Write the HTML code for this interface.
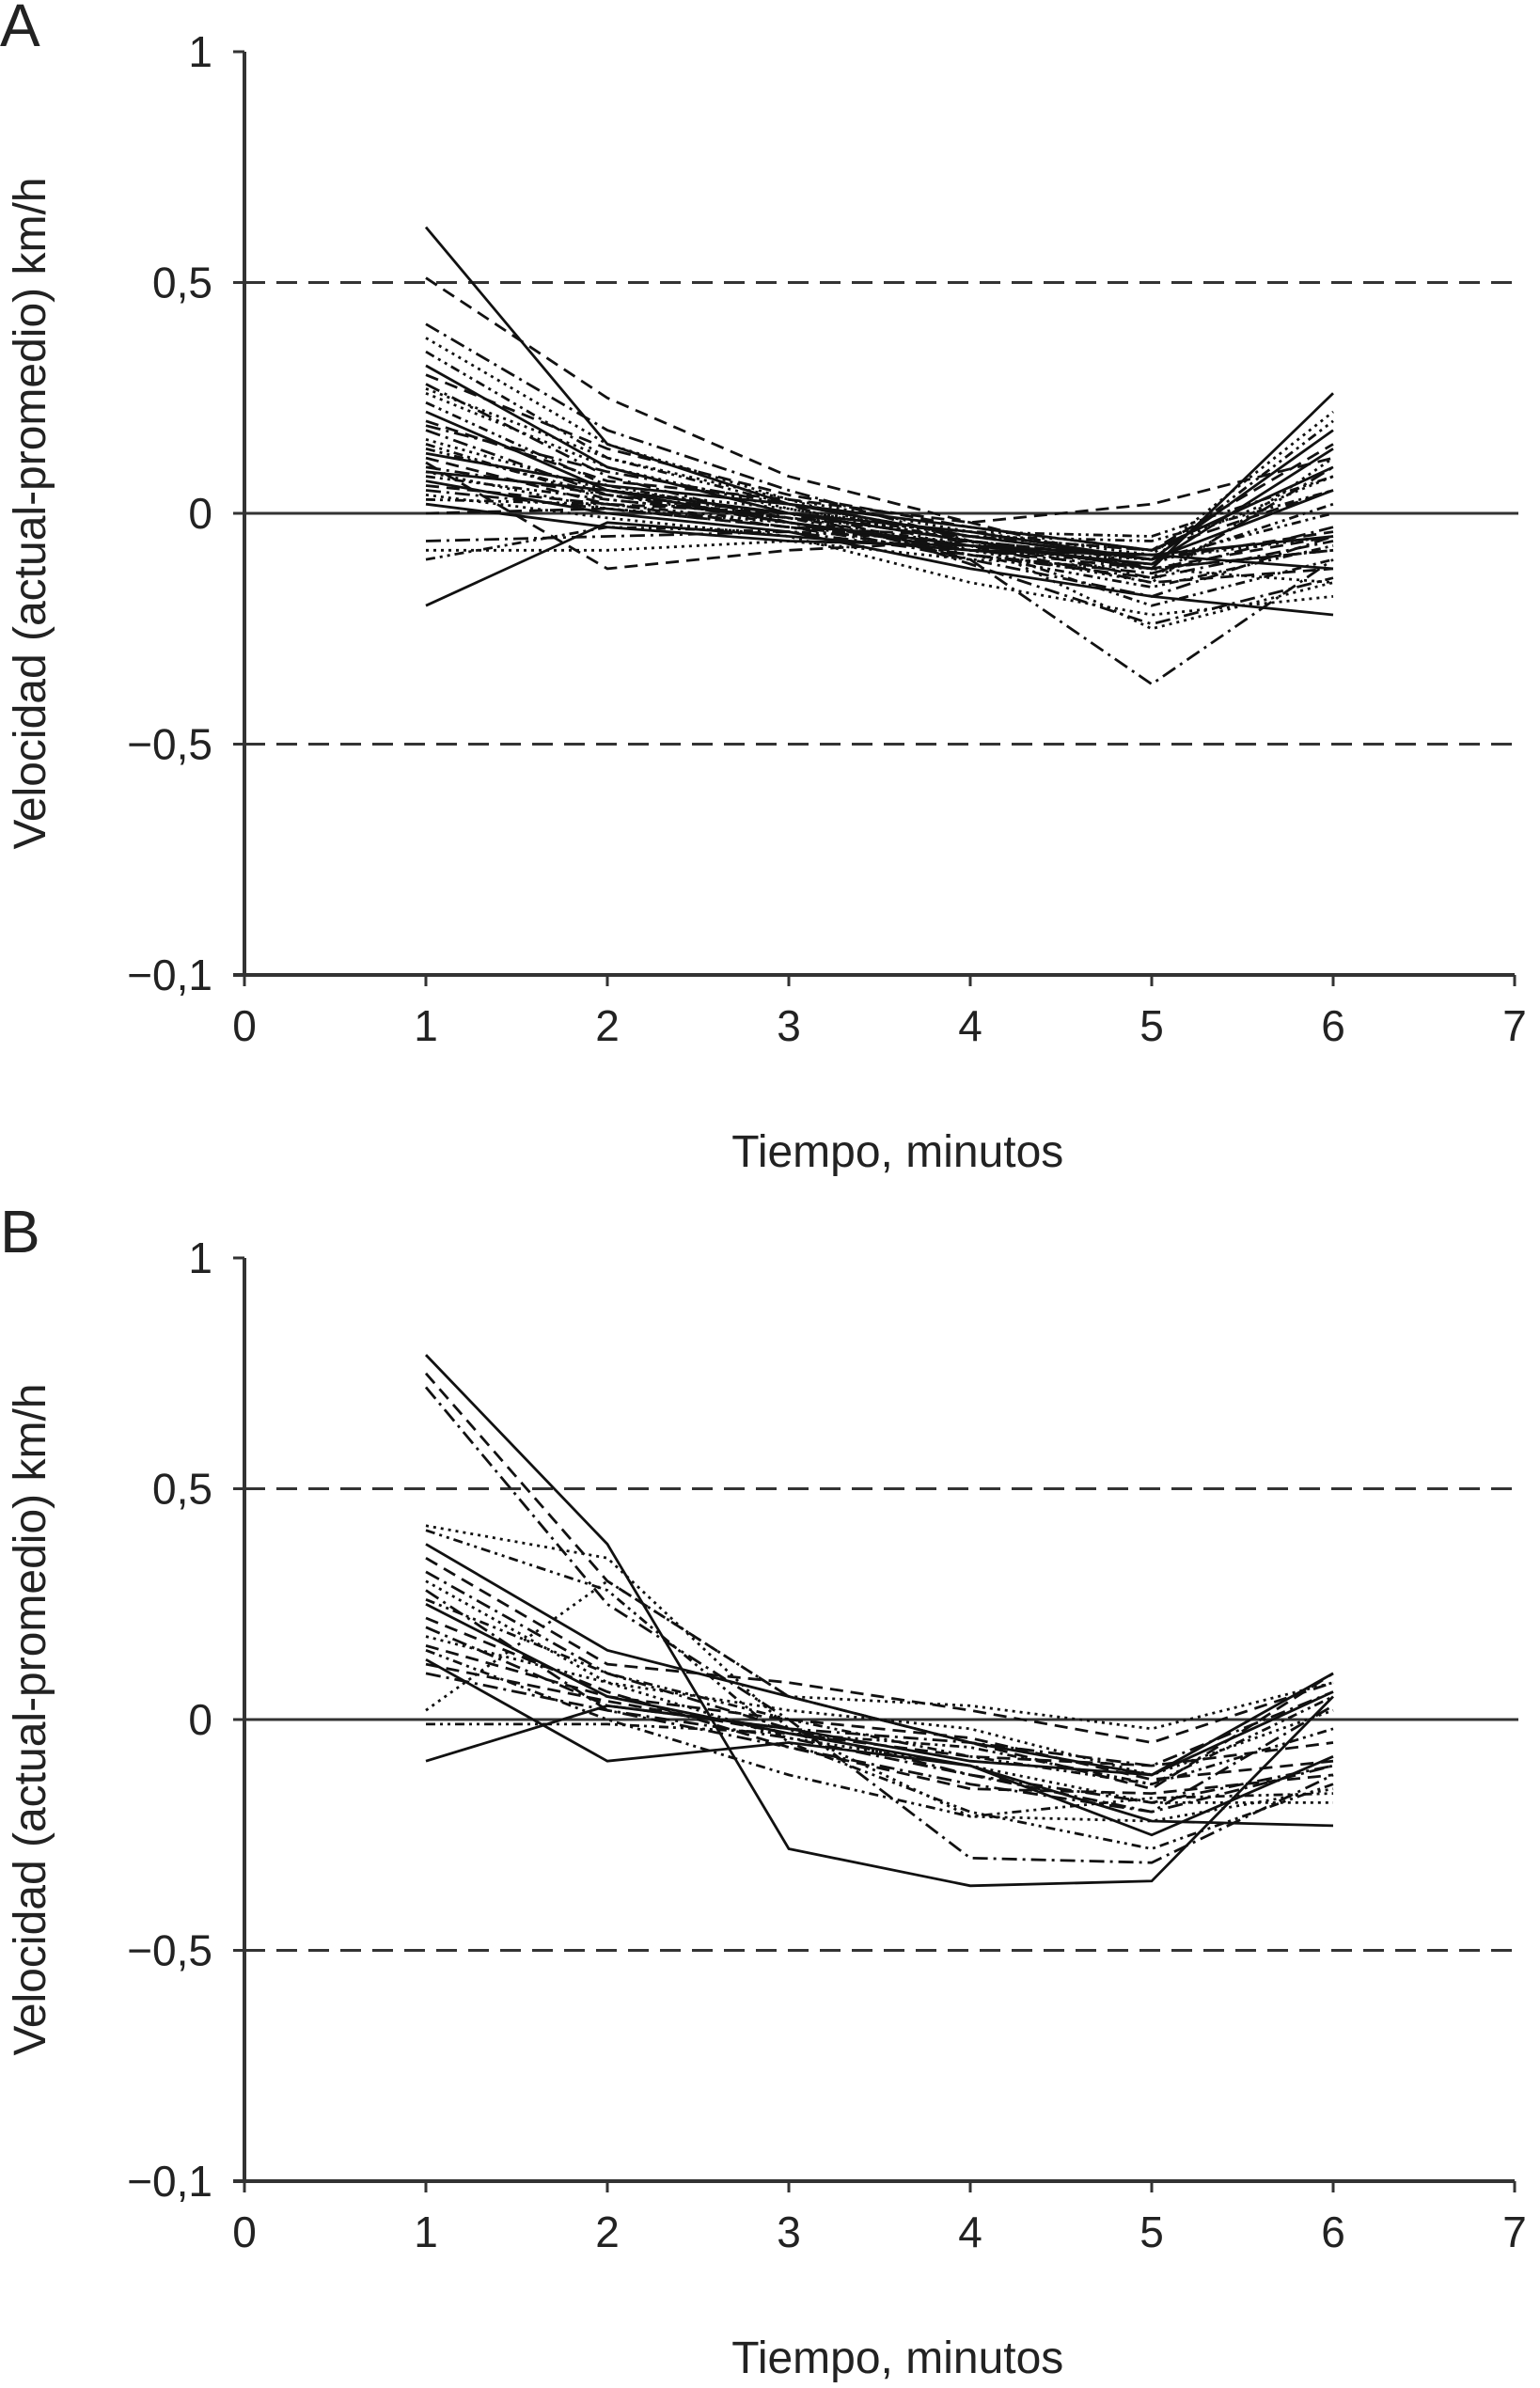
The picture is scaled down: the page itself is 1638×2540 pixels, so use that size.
<!DOCTYPE html>
<html><head><meta charset="utf-8"><style>
html,body{margin:0;padding:0;background:#fff}
svg{display:block}
text{font-family:"Liberation Sans",sans-serif;fill:#222}
</style></head><body>
<svg id="chart" width="1638" height="2540" viewBox="0 0 1638 2540" xmlns="http://www.w3.org/2000/svg"></svg>
<script>
const xTicks=[0,1,2,3,4,5,6,7];
const yTickVals=[1,0.5,0,-0.5,-1];
const yTickLabels=["1","0,5","0","\u22120,5","\u22120,1"];
const timePoints=[1,2,3,4,5,6];
const seriesA=[
[0.62,0.15,0.02,-0.05,-0.10,0.05],[0.51,0.25,0.08,-0.02,-0.12,-0.05],[0.41,0.18,0.05,-0.06,-0.14,0.10],
[0.38,0.15,0.03,-0.08,-0.15,0.12],[0.35,0.12,0.02,-0.05,-0.10,0.20],[0.32,0.10,0.00,-0.06,-0.12,0.26],
[0.30,0.14,0.04,-0.03,-0.08,0.15],[0.28,0.08,-0.02,-0.10,-0.18,-0.05],[0.26,0.10,0.01,-0.05,-0.08,0.08],
[0.24,0.06,-0.01,-0.07,-0.20,-0.10],[0.22,0.05,0.00,-0.04,-0.10,0.18],[0.20,0.07,0.03,-0.02,0.02,0.12],
[0.18,0.04,-0.02,-0.08,-0.12,-0.08],[0.16,0.05,0.01,-0.06,-0.25,-0.15],[0.15,0.03,-0.01,-0.05,-0.06,0.05],
[0.13,0.06,0.02,-0.03,-0.08,0.10],[0.12,0.02,-0.03,-0.07,-0.15,-0.12],[0.10,0.04,0.00,-0.10,-0.37,-0.10],
[0.09,0.01,-0.02,-0.08,-0.10,-0.05],[0.08,0.03,-0.01,-0.04,-0.05,0.08],[0.07,0.00,-0.04,-0.12,-0.18,-0.22],
[0.06,0.02,0.00,-0.06,-0.12,-0.08],[0.05,0.01,-0.03,-0.09,-0.13,-0.03],[0.04,-0.01,-0.05,-0.15,-0.22,-0.18],
[0.03,0.02,-0.02,-0.08,-0.11,0.02],[0.02,-0.03,-0.06,-0.07,-0.09,-0.12],[0.00,0.01,-0.03,-0.05,-0.08,0.05],
[-0.06,-0.05,-0.04,-0.09,-0.14,-0.06],[-0.08,-0.08,-0.06,-0.10,-0.12,-0.15],[-0.10,-0.03,-0.04,-0.06,-0.10,0.00],
[-0.20,-0.02,-0.05,-0.08,-0.09,-0.05],[0.11,-0.12,-0.08,-0.06,-0.10,-0.04],[0.19,0.09,0.02,-0.11,-0.24,-0.14],
[0.27,0.12,0.03,-0.04,-0.09,0.22],[0.14,0.04,-0.01,-0.09,-0.16,-0.07],[0.09,0.05,-0.02,-0.07,-0.11,0.14]
];
const seriesB=[
[0.79,0.38,-0.28,-0.36,-0.35,0.05],[0.75,0.30,0.05,-0.05,-0.15,0.10],[0.72,0.25,0.00,-0.30,-0.31,-0.12],
[0.42,0.35,-0.02,-0.21,-0.22,-0.15],[0.41,0.28,-0.05,-0.20,-0.28,-0.14],[0.38,0.15,0.05,-0.05,-0.12,0.10],
[0.35,0.12,0.08,0.02,-0.05,0.08],[0.32,0.10,-0.02,-0.12,-0.20,-0.10],[0.30,0.08,-0.04,-0.10,-0.18,-0.18],
[0.26,0.10,0.00,-0.08,-0.14,0.05],[0.25,0.05,-0.03,-0.10,-0.22,-0.23],[0.22,0.06,-0.06,-0.15,-0.16,-0.12],
[0.20,0.03,-0.02,-0.05,-0.10,0.06],[0.18,0.08,0.02,-0.02,-0.12,0.02],[0.15,0.00,-0.12,-0.21,-0.17,-0.16],
[0.13,-0.09,-0.05,-0.10,-0.25,-0.08],[0.12,0.04,-0.03,-0.08,-0.10,-0.05],[0.10,0.02,-0.04,-0.12,-0.18,-0.10],
[0.02,0.30,0.05,0.03,-0.02,0.08],[-0.01,-0.01,-0.03,-0.06,-0.14,-0.02],[-0.09,0.03,-0.02,-0.09,-0.12,0.06],
[0.16,0.05,0.00,-0.04,-0.13,-0.09],[0.28,0.02,-0.06,-0.14,-0.20,0.03]
];
const dashStyles=["none","14,8","16,6,3,6","3,5","10,5,3,5,3,5"];
const NS="http://www.w3.org/2000/svg";
const svg=document.getElementById('chart');
function mk(tag,attrs,parent){const e=document.createElementNS(NS,tag);for(const k in attrs)e.setAttribute(k,attrs[k]);(parent||svg).appendChild(e);return e;}
function panel(id,letter,top,series){
  const x0=260,unit=193,yZero=top+491,pxPerUnit=491;
  const sx=v=>x0+v*unit, sy=v=>yZero-v*pxPerUnit;
  const g=mk('g',{});
  
  
  const lab=mk('text',{x:0,y:top-6,'font-size':64},g);lab.textContent=letter;
  
  
  [0.5,-0.5].forEach(v=>{const l=mk('line',{x1:x0,x2:sx(7)+4,y1:sy(v),y2:sy(v),stroke:'#333','stroke-width':3,'stroke-dasharray':'22,12'},g);
    
    });
  const zl=mk('line',{x1:x0,x2:sx(7)+4,y1:sy(0),y2:sy(0),stroke:'#333','stroke-width':3},g);
  
  
  series.forEach((s,i)=>{
    const d=s.map((v,j)=>(j?'L':'M')+sx(timePoints[j]).toFixed(1)+','+sy(v).toFixed(1)).join(' ');
    const p=mk('path',{d:d,fill:'none',stroke:'#111','stroke-width':2.8,'stroke-dasharray':dashStyles[i%dashStyles.length]},g);
    
    
  });
  const ya=mk('line',{x1:x0,x2:x0,y1:sy(1),y2:sy(-1),stroke:'#333','stroke-width':4},g);
  
  
  const xa=mk('line',{x1:x0-12,x2:sx(7),y1:sy(-1),y2:sy(-1),stroke:'#333','stroke-width':4},g);
  
  
  yTickVals.forEach((v,i)=>{
    mk('line',{x1:x0-12,x2:x0,y1:sy(v),y2:sy(v),stroke:'#333','stroke-width':3},g);
    const t=mk('text',{x:x0-34,y:sy(v)+16,'font-size':46,'text-anchor':'end'},g);t.textContent=yTickLabels[i];
    
    
  });
  xTicks.forEach(v=>{
    mk('line',{x1:sx(v),x2:sx(v),y1:sy(-1),y2:sy(-1)+12,stroke:'#333','stroke-width':3},g);
    const t=mk('text',{x:sx(v),y:sy(-1)+70,'font-size':46,'text-anchor':'middle'},g);t.textContent=v;
    
    
  });
  const xt=mk('text',{x:sx(3.6),y:sy(-1)+204,'font-size':48,'text-anchor':'middle'},g);xt.textContent='Tiempo, minutos';
  
  
  const cy=sy(0);
  const yt=mk('text',{x:0,y:0,'font-size':48,'text-anchor':'middle',transform:'translate(48,'+cy+') rotate(-90)'},g);yt.textContent='Velocidad (actual-promedio) km/h';
  
  
}
panel('a','A',55,seriesA);
panel('b','B',1338,seriesB);
</script>
</body></html>
